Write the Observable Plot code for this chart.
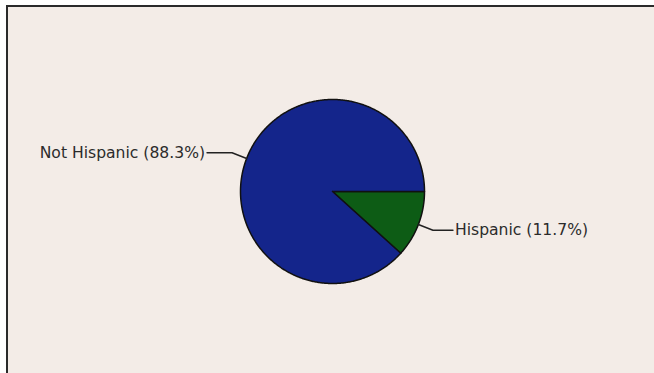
<!DOCTYPE html>
<html>
<head>
<meta charset="utf-8">
<script src="https://cdn.jsdelivr.net/npm/d3@7"></script>
<script src="https://cdn.jsdelivr.net/npm/@observablehq/plot@0.6"></script>
<style>
  html, body { margin: 0; padding: 0; background: #ffffff; width: 654px; height: 373px; overflow: hidden; }
  #frame { position: absolute; left: 6px; top: 5px; width: 650px; height: 370px;
           border-left: 2px solid #2a2a2a; border-top: 2px solid #2a2a2a; background: #f3ece7; }
  #chart { position: absolute; left: 0; top: 0; }
</style>
</head>
<body>
<div id="frame"></div>
<div id="chart"></div>
<script>
// Data
const categories = ["Hispanic", "Not Hispanic"];
const percents = [11.7, 88.3];
const labels = ["Hispanic (11.7%)", "Not Hispanic (88.3%)"];
const colors = ["#0d5c15", "#14258b"];

// Layout
const W = 654, H = 373;
const cx = 332, cy = 191, R = 92;

const rows = categories.map((c, i) => ({category: c, value: percents[i], label: labels[i], color: colors[i]}));
const arcs = d3.pie().sort(null).value(d => d.value).startAngle(Math.PI / 2).endAngle(Math.PI / 2 + 2 * Math.PI)(rows);

const pt = (a, r) => ({x: cx + r * Math.sin(a), y: cy - r * Math.cos(a)});

// slice polygons
const slicePts = [];
arcs.forEach(a => {
  const n = Math.max(8, Math.ceil((a.endAngle - a.startAngle) / 0.01));
  slicePts.push({...pt(0, 0), k: a.data.category});
  for (let i = 0; i <= n; i++) {
    const ang = a.startAngle + (a.endAngle - a.startAngle) * i / n;
    slicePts.push({...pt(ang, R), k: a.data.category});
  }
  slicePts.push({...pt(0, 0), k: a.data.category});
});

// leaders and labels
const leaderPts = [];
const textRows = [];
arcs.forEach(a => {
  const mid = (a.startAngle + a.endAngle) / 2;
  const p0 = pt(mid, R), p1 = pt(mid, R * 1.17);
  const right = p1.x > cx;
  const p2 = {x: p1.x + (right ? 20 : -25), y: p1.y};
  [p0, p1, p2].forEach(p => leaderPts.push({...p, k: a.data.category}));
  textRows.push({x: p2.x + (right ? 2 : -2), y: p2.y, label: a.data.label, anchor: right ? "start" : "end"});
});

const plot = Plot.plot({
  width: W,
  height: H,
  margin: 0,
  x: {domain: [0, W], range: [0, W], axis: null},
  y: {domain: [0, H], range: [0, H], axis: null},
  style: {background: "transparent", overflow: "visible"},
  marks: [
    Plot.line(slicePts, {x: "x", y: "y", z: "k", fill: d => colors[categories.indexOf(d.k)], stroke: "#111", strokeWidth: 1.5, strokeLinejoin: "round", curve: "linear"}),
    Plot.line(leaderPts, {x: "x", y: "y", z: "k", stroke: "#222", strokeWidth: 1.5}),
    Plot.text(textRows.filter(d => d.anchor === "start"), {x: "x", y: "y", text: "label", textAnchor: "start", fill: "#2b2b2b", fontSize: 15.6, fontFamily: "DejaVu Sans"}),
    Plot.text(textRows.filter(d => d.anchor === "end"), {x: "x", y: "y", text: "label", textAnchor: "end", fill: "#2b2b2b", fontSize: 15.6, fontFamily: "DejaVu Sans"})
  ]
});
document.getElementById("chart").appendChild(plot);
</script>
</body>
</html>
